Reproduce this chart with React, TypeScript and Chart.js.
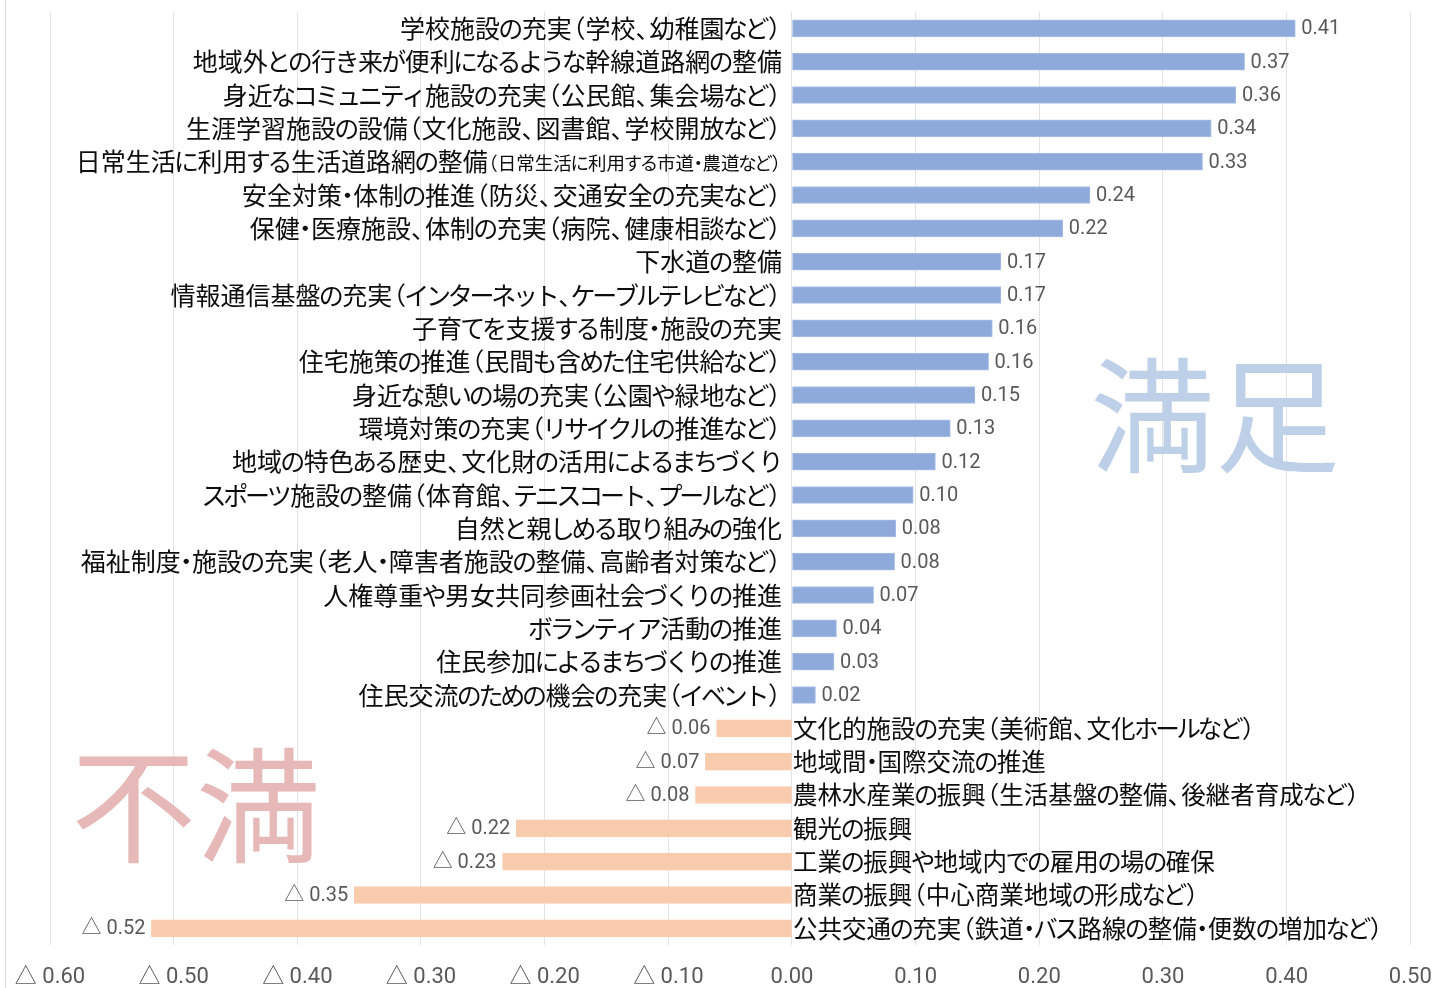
import React, { useEffect, useRef } from "react";
import { Chart, registerables } from "chart.js";

Chart.register(...registerables);

// Categories, top to bottom
const categories: string[] = [
  "学校施設の充実（学校、幼稚園など）",
  "地域外との行き来が便利になるような幹線道路網の整備",
  "身近なコミュニティ施設の充実（公民館、集会場など）",
  "生涯学習施設の設備（文化施設、図書館、学校開放など）",
  "日常生活に利用する生活道路網の整備",
  "安全対策・体制の推進（防災、交通安全の充実など）",
  "保健・医療施設、体制の充実（病院、健康相談など）",
  "下水道の整備",
  "情報通信基盤の充実（インターネット、ケーブルテレビなど）",
  "子育てを支援する制度・施設の充実",
  "住宅施策の推進（民間も含めた住宅供給など）",
  "身近な憩いの場の充実（公園や緑地など）",
  "環境対策の充実（リサイクルの推進など）",
  "地域の特色ある歴史、文化財の活用によるまちづくり",
  "スポーツ施設の整備（体育館、テニスコート、プールなど）",
  "自然と親しめる取り組みの強化",
  "福祉制度・施設の充実（老人・障害者施設の整備、高齢者対策など）",
  "人権尊重や男女共同参画社会づくりの推進",
  "ボランティア活動の推進",
  "住民参加によるまちづくりの推進",
  "住民交流のための機会の充実（イベント）",
  "文化的施設の充実（美術館、文化ホールなど）",
  "地域間・国際交流の推進",
  "農林水産業の振興（生活基盤の整備、後継者育成など）",
  "観光の振興",
  "工業の振興や地域内での雇用の場の確保",
  "商業の振興（中心商業地域の形成など）",
  "公共交通の充実（鉄道・バス路線の整備・便数の増加など）",
];

// Small-print notes appended to a category label
const notes: string[] = [
  "", "", "", "", "（日常生活に利用する市道・農道など）", "", "", "", "", "", "", "", "", "", "",
  "", "", "", "", "", "", "", "", "", "", "", "", "",
];

// Satisfaction index (positive = 満足, negative = 不満)
const values: number[] = [
  0.407, 0.366, 0.359, 0.339, 0.332, 0.241, 0.219, 0.169, 0.169, 0.162,
  0.159, 0.148, 0.128, 0.116, 0.098, 0.084, 0.083, 0.066, 0.036, 0.034,
  0.019, -0.061, -0.070, -0.078, -0.223, -0.234, -0.354, -0.518,
];

const xMin = -0.6;
const xMax = 0.5;
const xStep = 0.1;

const POS_COLOR = "#8eaadb";
const POS_BORDER = "#a8bfe6";
const NEG_COLOR = "#f8cbad";
const JP = '"Noto Sans CJK JP", "Noto Sans", sans-serif';
const NUM = 'Roboto, "Noto Sans CJK JP", sans-serif';

const fmt = (v: number) => (v < 0 ? "△ " + Math.abs(v).toFixed(2) : Math.abs(v).toFixed(2));

const OPEN = "（「『【〔";
const CLOSE = "）」』】〕、。，";
const MID = "・";
const KANA = /[\u3040-\u30ff]/;

function jpItems(ctx: CanvasRenderingContext2D, text: string) {
  const items: { ch: string; off: number; adv: number }[] = [];
  for (const ch of Array.from(text)) {
    const w = ctx.measureText(ch).width;
    if (OPEN.includes(ch)) items.push({ ch, off: -0.45 * w, adv: 0.55 * w });
    else if (CLOSE.includes(ch)) items.push({ ch, off: 0, adv: 0.56 * w });
    else if (MID.includes(ch)) items.push({ ch, off: -0.275 * w, adv: 0.45 * w });
    else if (KANA.test(ch)) items.push({ ch, off: -0.065 * w, adv: 0.87 * w });
    else items.push({ ch, off: 0, adv: w });
  }
  return items;
}

function drawJP(
  ctx: CanvasRenderingContext2D,
  text: string,
  x: number,
  y: number,
  size: number,
  align: "left" | "right"
): number {
  ctx.font = `${size}px ${JP}`;
  ctx.textAlign = "left";
  ctx.textBaseline = "middle";
  const items = jpItems(ctx, text);
  const total = items.reduce((s, it) => s + it.adv, 0);
  let cx = align === "right" ? x - total : x;
  for (const it of items) {
    ctx.fillText(it.ch, cx + it.off, y);
    cx += it.adv;
  }
  return total;
}

const labelPlugin = {
  id: "customLabels",
  beforeDraw(chart: any) {
    const ctx = chart.ctx as CanvasRenderingContext2D;
    ctx.save();
    ctx.strokeStyle = "#d9d9d9";
    ctx.lineWidth = 1;
    ctx.beginPath();
    ctx.moveTo(5.5, 0);
    ctx.lineTo(5.5, chart.height);
    ctx.stroke();
    ctx.restore();
  },
  beforeDatasetsDraw(chart: any) {
    const ctx = chart.ctx as CanvasRenderingContext2D;
    const x = chart.scales.x;
    const y = chart.scales.y;
    ctx.save();
    ctx.font = `125px ${JP}`;
    ctx.textAlign = "center";
    ctx.textBaseline = "middle";
    ctx.fillStyle = "#bdd0e7";
    ctx.fillText("満足", x.getPixelForValue(0.342), y.getPixelForValue(11.6));
    ctx.fillStyle = "#e6b8b8";
    ctx.fillText("不満", x.getPixelForValue(-0.482), y.getPixelForValue(23.3));
    ctx.restore();
  },
  afterDatasetsDraw(chart: any) {
    const ctx = chart.ctx as CanvasRenderingContext2D;
    const meta = chart.getDatasetMeta(0);
    const zero = chart.scales.x.getPixelForValue(0);
    ctx.save();
    meta.data.forEach((bar: any, i: number) => {
      const v = values[i];
      const yc = bar.y;
      // category label
      ctx.fillStyle = "#0d0d0d";
      if (v >= 0) {
        let right = zero - 10;
        if (notes[i]) {
          const w = drawJP(ctx, notes[i], right, yc + 1, 18.5, "right");
          right -= w;
        }
        drawJP(ctx, categories[i], right, yc, 25, "right");
      } else {
        drawJP(ctx, categories[i], zero + 1, yc, 24.5, "left");
      }
      // value label
      ctx.font = `20px ${NUM}`;
      ctx.fillStyle = "#595959";
      ctx.textBaseline = "middle";
      if (v >= 0) {
        ctx.textAlign = "left";
        ctx.fillText(fmt(v), bar.x + 6, yc + 1);
      } else {
        ctx.textAlign = "right";
        ctx.fillText(fmt(v), bar.x - 6, yc + 1);
      }
    });
    ctx.restore();
  },
};

export default function App() {
  const canvasRef = useRef<HTMLCanvasElement | null>(null);

  useEffect(() => {
    if (!canvasRef.current) return;
    const chart = new Chart(canvasRef.current, {
      type: "bar",
      data: {
        labels: categories,
        datasets: [
          {
            data: values,
            backgroundColor: values.map((v) => (v >= 0 ? POS_COLOR : NEG_COLOR)),
            borderColor: values.map((v) => (v >= 0 ? POS_BORDER : NEG_COLOR)),
            borderWidth: 1,
            borderSkipped: false,
            barThickness: 17,
          },
        ],
      },
      options: {
        indexAxis: "y",
        responsive: false,
        animation: false,
        devicePixelRatio: 1,
        layout: { padding: { left: 50, right: 22.7, top: 11.7, bottom: 0 } },
        plugins: {
          legend: { display: false },
          tooltip: { enabled: false },
        },
        scales: {
          x: {
            min: xMin,
            max: xMax,
            border: { display: false },
            grid: { color: "#e3e3e3", lineWidth: 1, drawTicks: false },
            afterFit: (s: any) => {
              s.height = 43;
              s.paddingLeft = 0;
              s.paddingRight = 0;
            },
            ticks: {
              stepSize: xStep,
              padding: 19,
              color: "#595959",
              font: { family: NUM, size: 22 },
              callback: (v: any) => fmt(Number(v)),
              maxRotation: 0,
              autoSkip: false,
            },
          },
          y: {
            display: false,
            grid: { display: false },
          },
        },
      },
      plugins: [labelPlugin],
    } as any);
    return () => chart.destroy();
  }, []);

  return (
    <canvas
      ref={canvasRef}
      width={1433}
      height={988}
      style={{ position: "fixed", left: 0, top: 0, width: 1433, height: 988, display: "block" }}
    />
  );
}
